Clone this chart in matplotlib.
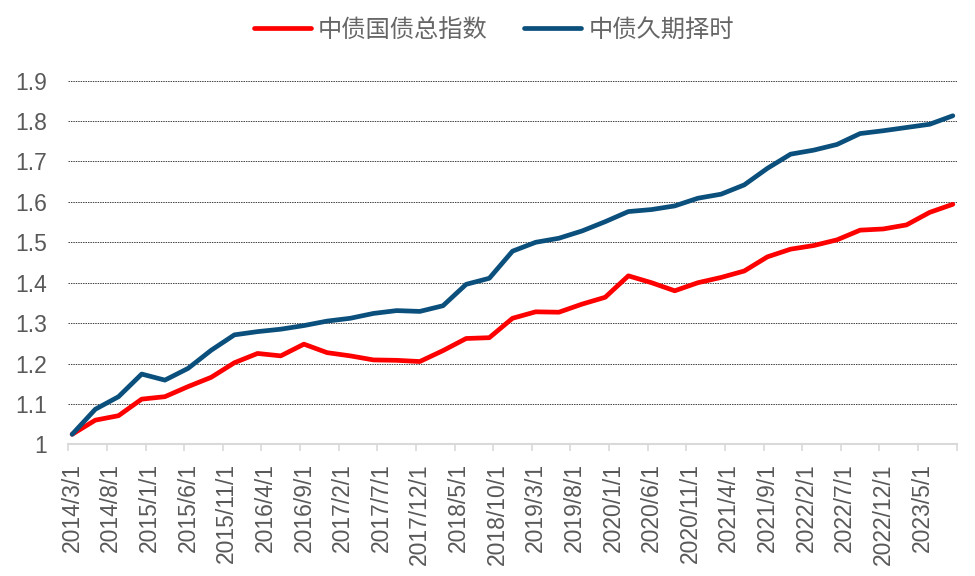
import matplotlib
matplotlib.use("Agg")
import matplotlib.pyplot as plt
from matplotlib.ticker import FixedLocator, NullFormatter

# ---- data (quarterly points on a monthly category axis, 2014/3 .. 2023/9) ----
start_year, start_month = 2014, 3
n_months = 115
label_step = 5
point_step = 3

series_names = ["中债国债总指数", "中债久期择时"]
red_values = [1.025, 1.060, 1.071, 1.112, 1.118, 1.143, 1.166, 1.202, 1.225, 1.219,
              1.248, 1.227, 1.219, 1.209, 1.208, 1.205, 1.232, 1.262, 1.264, 1.312,
              1.328, 1.327, 1.347, 1.364, 1.417, 1.400, 1.380, 1.400, 1.413, 1.429,
              1.464, 1.483, 1.492, 1.506, 1.530, 1.533, 1.543, 1.574, 1.594]
blue_values = [1.025, 1.087, 1.118, 1.174, 1.159, 1.188, 1.233, 1.271, 1.279, 1.285,
               1.294, 1.305, 1.312, 1.324, 1.331, 1.329, 1.343, 1.396, 1.411, 1.478,
               1.500, 1.510, 1.528, 1.551, 1.576, 1.581, 1.590, 1.609, 1.619, 1.642,
               1.683, 1.718, 1.728, 1.742, 1.769, 1.776, 1.784, 1.792, 1.813]
y_ticks = [1, 1.1, 1.2, 1.3, 1.4, 1.5, 1.6, 1.7, 1.8, 1.9]
y_tick_labels = ["1", "1.1", "1.2", "1.3", "1.4", "1.5", "1.6", "1.7", "1.8", "1.9"]

def month_label(i):
    m = start_month - 1 + i
    return f"{start_year + m // 12}/{m % 12 + 1}/1"

x_points = [i * point_step for i in range(len(red_values))]
label_pos = list(range(0, n_months, label_step))
x_labels = [month_label(i) for i in label_pos]

# ---- figure ----
plt.rcParams['font.family'] = ['Liberation Sans', 'Noto Sans CJK SC', 'DejaVu Sans']
fig = plt.figure(figsize=(9.75, 5.76), dpi=100)
ax = fig.add_axes([68.3 / 975, 1 - 444.4 / 576, (956.7 - 68.3) / 975, (444.4 - 80.6) / 576])

red = "#FF0000"
blue = "#0B4F7C"
txt = "#595959"

l1, = ax.plot(x_points, red_values, color=red, lw=3.4, solid_capstyle='round', zorder=3)
l2, = ax.plot(x_points, blue_values, color=blue, lw=3.4, solid_capstyle='round', zorder=4)

ax.set_xlim(-0.5, n_months - 0.5)
ax.set_ylim(1, 1.9)

ax.set_yticks(y_ticks)
ax.set_yticklabels(y_tick_labels)
ax.tick_params(axis='y', length=0, pad=15, labelsize=16.5, labelcolor=txt)
ax.yaxis.grid(True, linestyle=(0, (1.5, 1)), color='#404040', linewidth=0.7)
ax.set_axisbelow(True)

ax.set_xticks(label_pos)
ax.set_xticklabels(x_labels, rotation=90, fontsize=16.5, color=txt)
ax.tick_params(axis='x', which='major', length=0, pad=13.5)
ax.xaxis.set_minor_locator(FixedLocator([b - 0.5 for b in range(0, n_months + 1, label_step)]))
ax.xaxis.set_minor_formatter(NullFormatter())
ax.tick_params(axis='x', which='minor', length=5, width=1.2, color='#D9D9D9')

for s in ['top', 'right', 'left']:
    ax.spines[s].set_visible(False)
ax.spines['bottom'].set_color('#D9D9D9')
ax.spines['bottom'].set_linewidth(1.5)

leg = fig.legend([l1, l2], series_names, loc='center', bbox_to_anchor=(494 / 975, 1 - 30 / 576),
                 ncol=2, frameon=False, handlelength=2.35, handletextpad=0.3, columnspacing=1.5,
                 prop={'family': ['Noto Sans CJK SC'], 'size': 17.5})
for t in leg.get_texts():
    t.set_color('#666666')

fig.savefig("out.png", dpi=100)
